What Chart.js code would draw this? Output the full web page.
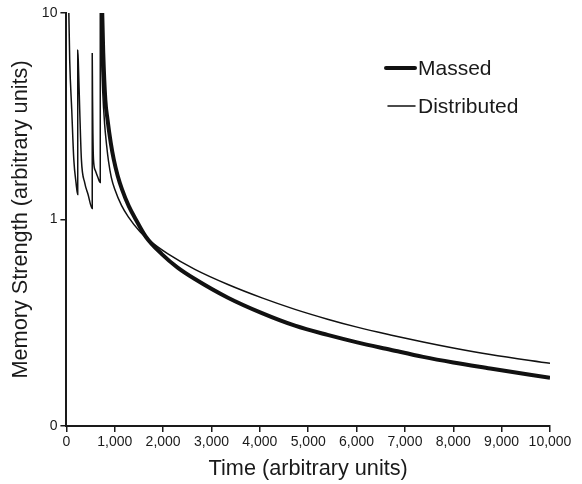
<!DOCTYPE html>
<html>
<head>
<meta charset="utf-8">
<script src="https://cdn.jsdelivr.net/npm/chart.js@4.4.1/dist/chart.umd.min.js"></script>
<style>
  html, body { margin: 0; padding: 0; background: #ffffff; }
  #wrap { width: 582px; height: 484px; position: relative; }
</style>
</head>
<body>
<div id="wrap"><canvas id="c"></canvas></div>
<script>
// ---- data ----
const seriesNames = ['Massed', 'Distributed'];

const massedTime = [730, 741, 762, 805, 850, 917, 980, 1060, 1150, 1290, 1435, 1642, 1973, 2300, 2656, 3340, 4044, 4727, 5400, 6011, 6700, 7377, 8000, 8764, 10000];
const massedStrength = [14, 10, 6.4, 3.8, 3.05, 2.35, 1.95, 1.63, 1.4, 1.16, 1.0, 0.825, 0.68, 0.585, 0.515, 0.418, 0.352, 0.306, 0.276, 0.254, 0.234, 0.216, 0.203, 0.19, 0.171];

const distributedTime = [0, 50, 68, 110, 153, 200, 234,
  234, 245, 275, 310, 380, 448, 534,
  534, 540, 548, 560, 600, 650, 700,
  700, 706, 722, 750, 790, 830, 870, 928, 1000, 1139, 1280, 1518, 1766, 2100, 2656, 3340, 4044, 4727, 5400, 6011, 6700, 7377, 8000, 8764, 10000];
const distributedStrength = [14, 10, 5.9, 3.4, 1.95, 1.5, 1.32,
  6.6, 5.9, 3.4, 1.95, 1.5, 1.32, 1.13,
  6.4, 4.0, 2.6, 1.95, 1.72, 1.6, 1.51,
  14, 10, 6.6, 4.2, 2.9, 2.3, 1.92, 1.6, 1.4, 1.17, 1.03, 0.875, 0.774, 0.681, 0.573, 0.484, 0.417, 0.367, 0.329, 0.301, 0.276, 0.255, 0.2385, 0.2216, 0.201];

const xTickValues = [0, 1000, 2000, 3000, 4000, 5000, 6000, 7000, 8000, 9000, 10000];
const yTickValues = [0.1, 1, 10];
const yTickLabels = ['0', '1', '10'];

const xTitle = 'Time (arbitrary units)';
const yTitle = 'Memory Strength (arbitrary units)';

// ---- chart ----
const FONT = "'Liberation Sans', Arial, Helvetica, sans-serif";
const INK = '#1a1a1a';

function toPoints(xs, ys) { return xs.map((x, i) => ({ x: x, y: ys[i] })); }

const sideLegend = {
  id: 'sideLegend',
  afterDraw(chart, args, opts) {
    const ctx = chart.ctx;
    ctx.save();
    chart.data.datasets.forEach((ds, i) => {
      const y = opts.rows[i];
      ctx.beginPath();
      ctx.strokeStyle = ds.borderColor;
      ctx.lineWidth = ds.borderWidth;
      ctx.lineCap = 'round';
      ctx.moveTo(opts.lineStart[i], y);
      ctx.lineTo(opts.lineEnd, y);
      ctx.stroke();
      ctx.fillStyle = INK;
      ctx.font = opts.fontSize + 'px ' + FONT;
      ctx.textBaseline = 'middle';
      ctx.textAlign = 'left';
      ctx.fillText(ds.label, opts.textX, y + 1);
    });
    ctx.restore();
  }
};

new Chart(document.getElementById('c'), {
  type: 'scatter',
  data: {
    datasets: [
      {
        label: seriesNames[0],
        data: toPoints(massedTime, massedStrength),
        showLine: true,
        borderColor: '#111111',
        borderWidth: 4,
        pointRadius: 0,
        cubicInterpolationMode: 'monotone',
        clip: 0
      },
      {
        label: seriesNames[1],
        data: toPoints(distributedTime, distributedStrength),
        showLine: true,
        borderColor: '#111111',
        borderWidth: 1.5,
        pointRadius: 0,
        cubicInterpolationMode: 'monotone',
        clip: 0
      }
    ]
  },
  options: {
    responsive: true,
    maintainAspectRatio: false,
    animation: false,
    events: [],
    layout: { padding: { left: 5, right: 32, top: 13, bottom: 0 } },
    plugins: {
      legend: { display: false },
      tooltip: { enabled: false },
      sideLegend: { rows: [68, 106], lineStart: [386, 388], lineEnd: 415, textX: 418, fontSize: 21 }
    },
    scales: {
      x: {
        type: 'linear',
        min: 0,
        max: 10000,
        afterBuildTicks: (s) => { s.ticks = xTickValues.map(v => ({ value: v })); },
        ticks: {
          color: INK,
          font: { family: FONT, size: 14 },
          padding: 2,
          maxRotation: 0,
          autoSkip: false,
          callback: (v) => Number(v).toLocaleString('en-US')
        },
        grid: { display: true, drawOnChartArea: false, drawTicks: true, tickLength: 6, color: INK, lineWidth: 1.5 },
        border: { display: true, color: INK, width: 2 },
        title: { display: true, text: xTitle, color: INK, font: { family: FONT, size: 21.7 }, padding: { top: 3.2, bottom: 2 } }
      },
      y: {
        type: 'logarithmic',
        min: 0.1,
        max: 10,
        afterBuildTicks: (s) => { s.ticks = yTickValues.map(v => ({ value: v })); },
        ticks: {
          color: INK,
          font: { family: FONT, size: 14 },
          padding: 3,
          autoSkip: false,
          callback: (v) => yTickLabels[yTickValues.indexOf(v)]
        },
        grid: { display: true, drawOnChartArea: false, drawTicks: true, tickLength: 6, color: INK, lineWidth: 1.5 },
        border: { display: true, color: INK, width: 2 },
        title: { display: true, text: yTitle, color: INK, font: { family: FONT, size: 21.7 }, padding: { top: 3.4, bottom: 4.4 } }
      }
    }
  },
  plugins: [sideLegend]
});
</script>
</body>
</html>
